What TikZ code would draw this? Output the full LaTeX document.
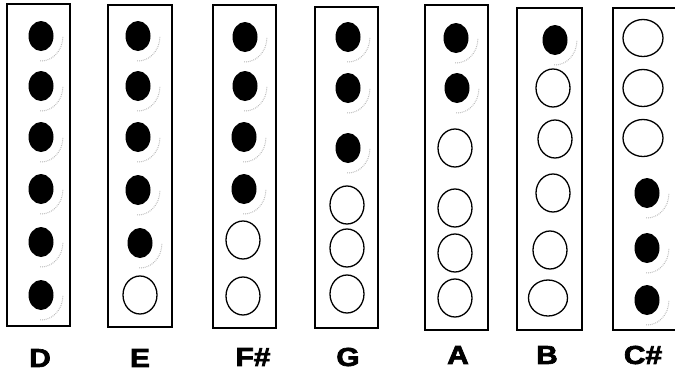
\documentclass[tikz,border=0pt]{standalone}
\usepackage{fontspec}
\setmainfont{Liberation Sans}
\newfontfamily\labelfont{Liberation Sans Bold}[FakeBold=2.5]
\usetikzlibrary{shapes.geometric}
\tikzset{
  box/.style={draw, line width=1.5pt},
  shutn/.style={ellipse, fill=black, minimum width=25pt, minimum height=30pt, inner sep=0pt},
  holen/.style={ellipse, draw, line width=1.3pt, minimum width=34pt, minimum height=38pt, inner sep=0pt},
  halo/.style={draw=gray!60, line width=1pt, dash pattern=on 0.8pt off 1.1pt},
  lab/.style={font=\labelfont\fontsize{26}{26}\selectfont, xscale=1.15, inner sep=0pt}
}
\newcommand\closedhole[3]{\node[shutn] (#1) at (#2,#3) {};
  \draw[halo] (#1.center) ++(-2:22pt and 25pt) arc[start angle=-2,end angle=-92,x radius=22pt,y radius=25pt];}
\newcommand\openhole[3]{\node[holen] (#1) at (#2,#3) {};}
\begin{document}
\begin{tikzpicture}[x=1pt,y=-1pt]
\useasboundingbox (0,0) rectangle (675,376);
\clip (0,0) rectangle (675,376);
% D
\draw[box] (7,4) rectangle (70,326);
\closedhole{d1}{41}{36}\closedhole{d2}{41}{86}\closedhole{d3}{41}{137}
\closedhole{d4}{41}{189}\closedhole{d5}{41}{242}\closedhole{d6}{41}{295}
\node[lab] (lD) at (40,358) {D};
% E
\draw[box] (108,5) rectangle (172,327);
\closedhole{e1}{138}{36}\closedhole{e2}{138}{86}\closedhole{e3}{138}{137}
\closedhole{e4}{138}{190}\closedhole{e5}{140}{243}\openhole{e6}{140}{295}
\node[lab] (lE) at (140,358) {E};
% F#
\draw[box] (213,5) rectangle (276,328);
\closedhole{f1}{245}{37}\closedhole{f2}{245}{86}\closedhole{f3}{244}{137}
\closedhole{f4}{244}{189}\openhole{f5}{243}{240}\openhole{f6}{243}{296}
\node[lab] (lF) at (253,357) {F\#};
% G
\draw[box] (315,7) rectangle (378,328);
\closedhole{g1}{348}{37}\closedhole{g2}{348}{88}\closedhole{g3}{348}{148}
\openhole{g4}{347}{205}\openhole{g5}{347}{248}\openhole{g6}{347}{294}
\node[lab] (lG) at (348,357) {G};
% A
\draw[box] (425,5) rectangle (488,330);
\closedhole{a1}{456}{38}\closedhole{a2}{457}{88}\openhole{a3}{455}{148}
\openhole{a4}{455}{208}\openhole{a5}{455}{253}\openhole{a6}{455}{298}
\node[lab] (lA) at (458,355) {A};
% B
\draw[box] (517,8) rectangle (582,330);
\closedhole{b1}{555}{40}\openhole{b2}{553}{88}\openhole{b3}{555}{139}
\openhole{b4}{553}{193}\openhole{b5}{550}{250}
\node[holen, minimum width=39pt, minimum height=36pt] (b6) at (548,298) {};
\node[lab] (lB) at (547,355) {B};
% C#
\draw[box] (613,8) rectangle (690,330);
\node[holen, minimum width=40pt, minimum height=37pt] (c1) at (643,38) {};
\node[holen, minimum width=40pt, minimum height=37pt] (c2) at (643,88) {};
\node[holen, minimum width=40pt, minimum height=37pt] (c3) at (643,138) {};
\closedhole{c4}{647}{193}\closedhole{c5}{647}{248}\closedhole{c6}{647}{300}
\node[lab] (lC) at (643,355) {C\#};
\end{tikzpicture}
\end{document}
